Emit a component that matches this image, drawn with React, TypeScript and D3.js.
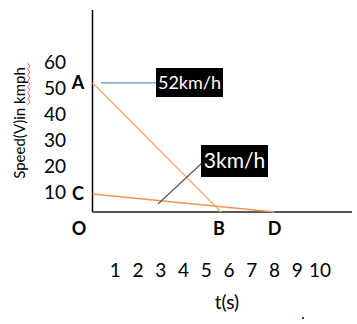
import React from "react";
import * as d3 from "d3";

const speedTicks = [10, 20, 30, 40, 50, 60];
const timeTicks = [1, 2, 3, 4, 5, 6, 7, 8, 9, 10];
const lineAB = [
  { t: 0, v: 52 },
  { t: 5.65, v: 0 },
];
const lineCD = [
  { t: 0, v: 9 },
  { t: 8, v: 0 },
];
const pointLabels = [
  { name: "A", t: 0, v: 52 },
  { name: "C", t: 0, v: 9 },
];
const axisLabels = [
  { name: "O", t: 0 },
  { name: "B", t: 5.65 },
  { name: "D", t: 8 },
];
const callout52 = "52km/h";
const callout3 = "3km/h";

const W = 357;
const H = 324;
const FONT = "Lato, 'Open Sans', sans-serif";

export default function App() {
  const x = d3.scaleLinear().domain([0, 10]).range([92.5, 320]);
  const y = d3.scaleLinear().domain([0, 10, 60]).range([212, 192, 62]);
  const line = d3
    .line<{ t: number; v: number }>()
    .x((d) => x(d.t))
    .y((d) => y(d.v));

  // wavy spell-check underline
  const wave: [number, number][] = [];
  for (let i = 0; i <= 14; i++) wave.push([i % 2 === 0 ? 27.5 : 30, 63 + i * 3]);
  const wavePath = d3.line()(wave) || "";

  const yA = y(52);
  return (
    <svg
      width={W}
      height={H}
      style={{ position: "absolute", left: 0, top: 0, background: "#fff" }}
      fontFamily={FONT}
    >
      {/* axes */}
      <line x1={x(0)} x2={x(0)} y1={10} y2={y(0)} stroke="#000" strokeWidth={1.5} />
      <line x1={x(0)} x2={352} y1={y(0)} y2={y(0)} stroke="#595959" strokeWidth={2} />

      {/* lines */}
      <path d={line(lineAB) || ""} fill="none" stroke="#F4B183" strokeWidth={1.5} />
      <path d={line(lineCD) || ""} fill="none" stroke="#F19355" strokeWidth={1.5} />

      {/* callout 52 */}
      <line x1={101} x2={157} y1={yA} y2={yA} stroke="#5B9BD5" strokeWidth={1.2} />
      <rect x={156} y={68} width={67} height={29} fill="#000" />
      <text x={189.5} y={89} fill="#fff" fontSize={18} textAnchor="middle">
        {callout52}
      </text>

      {/* callout 3 */}
      <line x1={158} x2={202} y1={204} y2={163} stroke="#595959" strokeWidth={1.2} />
      <rect x={201} y={145} width={67} height={32} fill="#000" />
      <text x={234.5} y={168} fill="#fff" fontSize={21} textAnchor="middle">
        {callout3}
      </text>

      {/* y tick labels */}
      {speedTicks.map((v) => (
        <text key={v} x={66} y={y(v)} dy="0.35em" fontSize={19} textAnchor="end" fill="#000">
          {v}
        </text>
      ))}

      {/* point labels */}
      {pointLabels.map((p) => (
        <text
          key={p.name}
          x={78}
          y={y(p.v)}
          dy="0.35em"
          fontSize={18}
          fontWeight="bold"
          textAnchor="middle"
          fill="#000"
        >
          {p.name}
        </text>
      ))}
      {axisLabels.map((p) => (
        <text
          key={p.name}
          x={p.t === 0 ? 79 : x(p.t) + (p.name === "B" ? -2 : 0)}
          y={229}
          dy="0.35em"
          fontSize={18}
          fontWeight="bold"
          textAnchor="middle"
          fill="#000"
        >
          {p.name}
        </text>
      ))}

      {/* x tick labels */}
      {timeTicks.map((t) => (
        <text key={t} x={x(t)} y={270} dy="0.35em" fontSize={19} textAnchor="middle" fill="#000">
          {t}
        </text>
      ))}
      <text x={227} y={302} dy="0.35em" fontSize={19} textAnchor="middle" fill="#000">
        t(s)
      </text>

      {/* y title */}
      <text
        transform="translate(24.5,123) rotate(-90)"
        fontSize={15}
        textAnchor="middle"
        fill="#000"
      >
        Speed(V)in kmph
      </text>
      <path d={wavePath} fill="none" stroke="#FF4040" strokeWidth={0.8} />

      <rect x={302} y={317} width={2} height={2} fill="#2A2AFF" />
    </svg>
  );
}
